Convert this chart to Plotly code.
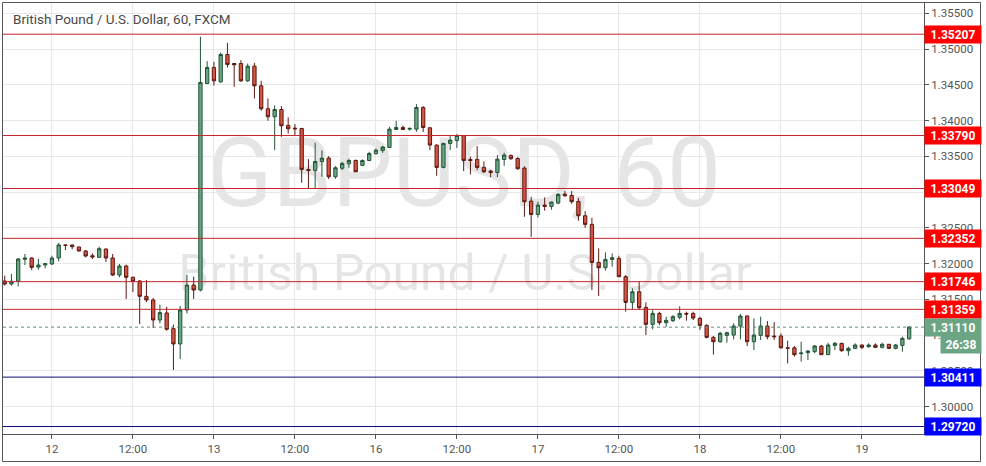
import plotly.graph_objects as go

# ---- data (GBP/USD, 60 min candles) ----
opens = [1.31755,1.31713,1.31751,1.32058,1.32077,1.31951,1.31979,1.31993,1.32077,1.32259,
         1.32259,1.32231,1.32175,1.32109,1.32086,1.32203,1.32077,1.31839,1.31965,1.31807,
         1.31755,1.31541,1.31490,1.31210,1.31308,1.31089,1.30875,1.31350,1.31699,1.31629,
         1.34518,1.34742,1.34541,1.34923,1.34797,1.34797,1.34555,1.34760,1.34485,1.34164,
         1.34052,1.34154,1.33931,1.33893,1.33889,1.33316,1.33302,1.33427,1.33474,1.33213,
         1.33332,1.33395,1.33441,1.33372,1.33441,1.33535,1.33581,1.33623,1.33875,1.33903,
         1.33879,1.33879,1.34182,1.33898,1.33656,1.33344,1.33679,1.33721,1.33791,1.33455,
         1.33455,1.33344,1.33292,1.33273,1.33455,1.33511,1.33469,1.33334,1.32873,1.32686,
         1.32817,1.32798,1.32845,1.32971,1.32952,1.32868,1.32668,1.32547,1.32015,1.31941,
         1.32057,1.32071,1.31815,1.31456,1.31605,1.31386,1.31149,1.31302,1.31172,1.31200,
         1.31247,1.31302,1.31302,1.31232,1.31135,1.30967,1.30906,1.30995,1.30999,1.31125,
         1.31265,1.30906,1.30995,1.31125,1.30986,1.30986,1.30820,1.30820,1.30739,1.30753,
         1.30767,1.30846,1.30725,1.30855,1.30883,1.30780,1.30813,1.30860,1.30836,1.30860,
         1.30827,1.30870,1.30813,1.30855,1.30948]
highs = [1.31830,1.31853,1.32077,1.32133,1.32086,1.32063,1.32007,1.32109,1.32287,1.32262,
         1.32264,1.32235,1.32189,1.32142,1.32235,1.32207,1.32133,1.31993,1.31984,1.31816,
         1.31769,1.31769,1.31518,1.31424,1.31396,1.31145,1.31406,1.31839,1.31816,1.35171,
         1.34830,1.34821,1.34951,1.35086,1.34802,1.34844,1.34797,1.34806,1.34555,1.34308,
         1.34210,1.34201,1.34043,1.33949,1.33893,1.33460,1.33688,1.33581,1.33502,1.33362,
         1.33423,1.33465,1.33455,1.33455,1.33562,1.33609,1.33646,1.33912,1.33996,1.33926,
         1.33903,1.34229,1.34201,1.33903,1.33665,1.33689,1.33796,1.33810,1.33796,1.33493,
         1.33642,1.33427,1.33311,1.33516,1.33549,1.33525,1.33488,1.33358,1.32933,1.32864,
         1.32924,1.32864,1.32985,1.33013,1.33013,1.32915,1.32733,1.32640,1.32211,1.32155,
         1.32140,1.32108,1.31838,1.31652,1.31745,1.31456,1.31349,1.31326,1.31256,1.31279,
         1.31400,1.31326,1.31326,1.31256,1.31149,1.30986,1.31046,1.31046,1.31163,1.31293,
         1.31275,1.31233,1.31256,1.31195,1.31181,1.31023,1.30920,1.30846,1.30906,1.30790,
         1.30860,1.30860,1.30892,1.30902,1.30892,1.30836,1.30883,1.30869,1.30883,1.30883,
         1.30892,1.30874,1.30874,1.30976,1.31125]
lows = [1.31690,1.31690,1.31681,1.31979,1.31909,1.31914,1.31932,1.31979,1.32030,1.32189,
        1.32198,1.32170,1.32086,1.32063,1.32077,1.32021,1.31825,1.31807,1.31504,1.31602,
        1.31154,1.31462,1.31098,1.31163,1.31061,1.30511,1.30665,1.31303,1.31504,1.31610,
        1.34509,1.34490,1.34527,1.34742,1.34471,1.34541,1.34541,1.34308,1.34136,1.33996,
        1.33586,1.33772,1.33819,1.33796,1.33129,1.33050,1.33050,1.33213,1.33180,1.33185,
        1.33306,1.33339,1.33283,1.33362,1.33432,1.33525,1.33548,1.33614,1.33865,1.33865,
        1.33860,1.33843,1.33839,1.33586,1.33227,1.33330,1.33586,1.33618,1.33292,1.33246,
        1.33306,1.33264,1.33208,1.33208,1.33367,1.33451,1.33311,1.32654,1.32374,1.32644,
        1.32738,1.32752,1.32830,1.32933,1.32836,1.32598,1.32500,1.31629,1.31545,1.31899,
        1.31955,1.31810,1.31326,1.31358,1.31349,1.31000,1.31080,1.31139,1.31116,1.31181,
        1.31219,1.31200,1.31209,1.31069,1.30953,1.30725,1.30892,1.30892,1.30939,1.30939,
        1.30846,1.30790,1.30930,1.30939,1.30930,1.30810,1.30603,1.30697,1.30627,1.30650,
        1.30743,1.30720,1.30720,1.30790,1.30766,1.30710,1.30804,1.30804,1.30823,1.30818,
        1.30813,1.30808,1.30799,1.30766,1.30930]
closes = [1.31713,1.31751,1.32063,1.32077,1.31946,1.31979,1.31998,1.32077,1.32259,1.32255,
          1.32235,1.32175,1.32105,1.32091,1.32207,1.32077,1.31839,1.31965,1.31807,1.31751,
          1.31541,1.31490,1.31210,1.31313,1.31080,1.30875,1.31350,1.31699,1.31629,1.34532,
          1.34742,1.34555,1.34923,1.34783,1.34779,1.34555,1.34760,1.34485,1.34164,1.34052,
          1.34154,1.33926,1.33884,1.33884,1.33316,1.33302,1.33427,1.33474,1.33213,1.33339,
          1.33400,1.33441,1.33283,1.33441,1.33539,1.33586,1.33628,1.33879,1.33903,1.33875,
          1.33889,1.34182,1.33903,1.33656,1.33344,1.33679,1.33726,1.33791,1.33441,1.33441,
          1.33344,1.33283,1.33273,1.33460,1.33516,1.33465,1.33325,1.32864,1.32686,1.32817,
          1.32798,1.32859,1.32966,1.32947,1.32864,1.32668,1.32547,1.32015,1.31941,1.32057,
          1.32080,1.31815,1.31456,1.31605,1.31382,1.31149,1.31302,1.31172,1.31205,1.31256,
          1.31302,1.31293,1.31237,1.31135,1.30967,1.30906,1.31023,1.31032,1.31125,1.31265,
          1.30906,1.31000,1.31125,1.30976,1.30976,1.30820,1.30815,1.30725,1.30748,1.30776,
          1.30846,1.30725,1.30860,1.30883,1.30780,1.30813,1.30860,1.30827,1.30860,1.30827,
          1.30870,1.30813,1.30860,1.30953,1.31110]
bar_index = list(range(len(opens)))

x_tick_pos = [7, 19, 31, 43, 55, 67, 79, 91, 103, 115, 127]
x_tick_labels = ["12", "12:00", "13", "12:00", "16", "12:00", "17", "12:00", "18", "12:00", "19"]

resistance_levels = [1.35207, 1.33790, 1.33049, 1.32352, 1.31746, 1.31359]
support_levels = [1.30411, 1.29720]
last_price = 1.31110
countdown = "26:38"
title_text = "British Pound / U.S. Dollar, 60, FXCM"
wm_symbol = "GBPUSD, 60"
wm_desc = "British Pound / U.S. Dollar"

# ---- layout geometry (pixels) ----
W, H = 986, 466
ML, MR, MT, MB = 3, 62, 3, 32
PW, PH = W - ML - MR, H - MT - MB


def px(xp):
    return (xp - ML) / PW


def py(yp):
    return (H - MB - yp) / PH


UP_FILL, UP_LINE = "#6ba583", "#225437"
DN_FILL, DN_LINE = "#d75442", "#5b1a13"
RED_LINE, RED_BOX = "#c8232c", "#ff0000"
BLUE_LINE, BLUE_BOX = "#0b0b7a", "#0000ff"
FONT = "Roboto"
WM_COLOR = "rgba(0,0,0,0.10)"

fig = go.Figure()
fig.add_trace(go.Candlestick(
    x=bar_index, open=opens, high=highs, low=lows, close=closes,
    increasing=dict(fillcolor=UP_FILL, line=dict(color=UP_LINE, width=1)),
    decreasing=dict(fillcolor=DN_FILL, line=dict(color=DN_LINE, width=1)),
    whiskerwidth=0, hoverinfo="skip", showlegend=False,
))

shapes = []
# watermark (between grid and candles)
shapes.append(dict(type="rect", xref="paper", yref="paper", x0=px(464) - 0.3, x1=px(464) + 0.3,
                   y0=py(166) - 0.01, y1=py(166) + 0.01, layer="between",
                   line=dict(width=0), fillcolor="rgba(0,0,0,0)",
                   label=dict(text=wm_symbol, textposition="middle center",
                              font=dict(size=96, family=FONT, color=WM_COLOR))))
shapes.append(dict(type="rect", xref="paper", yref="paper", x0=px(465) - 0.3, x1=px(465) + 0.3,
                   y0=py(268.5) - 0.01, y1=py(268.5) + 0.01, layer="between",
                   line=dict(width=0), fillcolor="rgba(0,0,0,0)",
                   label=dict(text=wm_desc, textposition="middle center",
                              font=dict(size=50, family=FONT, color=WM_COLOR))))
for lv in resistance_levels:
    shapes.append(dict(type="line", xref="paper", yref="y", x0=0, x1=1, y0=lv, y1=lv,
                       line=dict(color=RED_LINE, width=1), layer="above"))
for lv in support_levels:
    shapes.append(dict(type="line", xref="paper", yref="y", x0=0, x1=1, y0=lv, y1=lv,
                       line=dict(color=BLUE_LINE, width=1), layer="above"))
shapes.append(dict(type="line", xref="paper", yref="y", x0=0, x1=1, y0=last_price, y1=last_price,
                   line=dict(color="#5e8f76", width=1, dash="dot"), layer="above"))
# outer frame
shapes.append(dict(type="rect", xref="paper", yref="paper", x0=px(2.5), x1=px(980.5),
                   y0=py(461.5), y1=py(2.5), line=dict(color="#555555", width=1),
                   fillcolor="rgba(0,0,0,0)", layer="above"))

annotations = []
annotations.append(dict(text=title_text, xref="paper", yref="paper", x=px(11), y=py(19),
                        xanchor="left", yanchor="middle", showarrow=False,
                        font=dict(size=13.5, family=FONT, color="#4a4a4a")))


def price_box(val, color, text=None, yshift=0, xshift=0, width=54):
    return dict(text="<b>%s</b>" % (text if text else "%.5f" % val), xref="paper", yref="y",
                x=1, y=val, xanchor="left", yanchor="middle", xshift=xshift, yshift=yshift,
                showarrow=False, bgcolor=color, width=width, height=15, borderpad=1,
                align="center", font=dict(size=12, family=FONT, color="white"))


for lv in resistance_levels:
    annotations.append(price_box(lv, RED_BOX))
for lv in support_levels:
    annotations.append(price_box(lv, BLUE_BOX))
annotations.append(price_box(last_price, UP_FILL))
annotations.append(price_box(last_price, UP_FILL, text=countdown, yshift=-17, xshift=16, width=38))

y_lo = 1.30 + (406.5 - (H - MB)) / 7150
y_hi = 1.30 + (406.5 - MT) / 7150

fig.update_layout(
    width=W, height=H, margin=dict(l=ML, r=MR, t=MT, b=MB),
    paper_bgcolor="white", plot_bgcolor="white",
    shapes=shapes, annotations=annotations, showlegend=False,
    xaxis=dict(range=[-0.25, 136.2], tickvals=x_tick_pos, ticktext=x_tick_labels,
               showgrid=True, gridcolor="#e8e8e8", gridwidth=1, zeroline=False,
               showline=True, linecolor="#555555", linewidth=1,
               ticks="outside", ticklen=4, tickcolor="#555555",
               tickfont=dict(size=11.5, family=FONT, color="#555555"),
               rangeslider=dict(visible=False), fixedrange=True),
    yaxis=dict(range=[y_lo, y_hi], side="right", dtick=0.005, tick0=1.30, tickformat=".5f",
               showgrid=True, gridcolor="#e8e8e8", gridwidth=1, zeroline=False,
               showline=True, linecolor="#555555", linewidth=1,
               ticks="outside", ticklen=4, tickcolor="#555555",
               tickfont=dict(size=11.5, family=FONT, color="#555555"), fixedrange=True),
)

fig.write_html("out.html", config={"displayModeBar": False},
               post_script="document.body.style.margin='0px';document.body.style.padding='0px';")
